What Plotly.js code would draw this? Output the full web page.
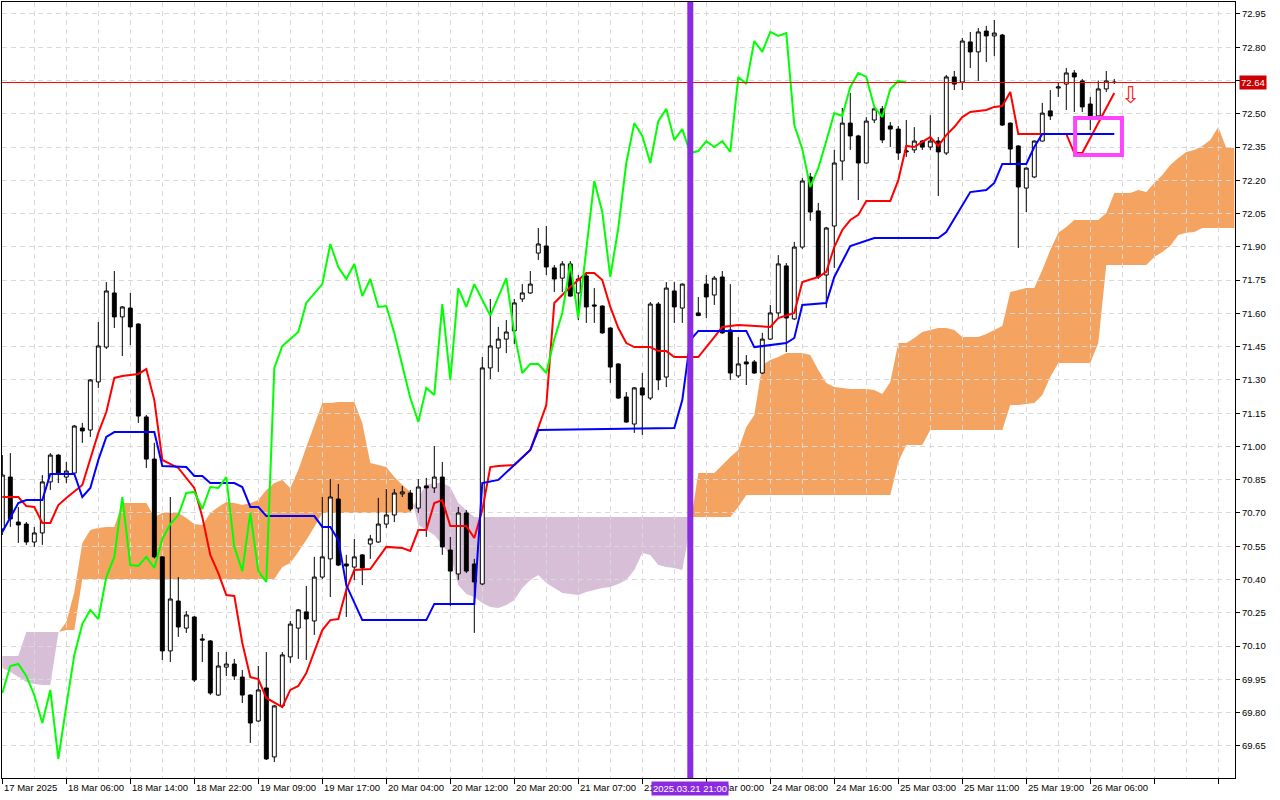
<!DOCTYPE html>
<html>
<head>
<meta charset="utf-8">
<script src="https://cdn.plot.ly/plotly-3.0.1.min.js"></script>
<style>
  html, body { margin: 0; padding: 0; background: #ffffff; }
  #chart { width: 1280px; height: 800px; }
</style>
</head>
<body>
<div id="chart"></div>
<script>
// ---------- DATA (H1 bars, index 0 = first visible bar) ----------
const open = [
70.628,70.862,70.659,70.650,70.569,70.610,70.840,70.961,70.862,70.880,
71.083,71.074,71.291,71.448,71.692,71.584,71.624,71.552,71.133,70.943,
70.502,70.078,70.303,70.181,70.231,70.132,70.123,69.879,70.005,70.019,
69.960,69.879,69.762,69.911,69.600,69.830,70.051,70.181,70.254,70.213,
70.411,70.493,70.763,70.470,70.456,70.511,70.560,70.569,70.650,70.691,
70.786,70.790,70.722,70.822,70.813,70.862,70.533,70.425,70.700,70.470,
70.380,71.354,71.444,71.484,71.521,71.665,71.692,71.872,71.904,71.805,
71.759,71.823,71.692,71.769,71.638,71.633,71.534,71.372,71.223,71.101,
71.264,71.218,71.642,71.313,71.701,71.624,71.705,71.602,71.732,71.683,
71.764,71.525,71.318,71.381,71.381,71.331,71.484,71.602,71.814,71.575,
71.899,72.215,72.062,71.773,71.994,72.287,72.458,72.400,72.278,72.472,
72.522,72.445,72.431,72.328,72.337,72.377,72.350,72.377,72.323,72.666,
72.643,72.824,72.779,72.873,72.851,72.855,72.458,72.355,72.165,72.215,
72.377,72.513,72.616,72.634,72.684,72.648,72.544,72.490,72.612,72.643];
const high = [
70.961,70.970,70.727,70.659,70.637,70.871,70.970,70.965,70.930,71.097,
71.106,71.304,71.561,71.741,71.791,71.633,71.692,71.555,71.142,71.016,
70.505,70.772,70.411,70.258,70.235,70.154,70.127,70.073,70.073,70.042,
69.992,69.882,70.010,70.073,69.835,70.073,70.213,70.267,70.371,70.502,
70.772,70.853,70.831,70.511,70.583,70.515,70.601,70.768,70.808,70.808,
70.822,70.804,70.853,70.858,71.002,70.930,70.592,70.727,70.713,70.493,
71.403,71.665,71.539,71.570,71.665,71.732,71.791,71.985,71.994,71.818,
71.836,71.836,71.773,71.782,71.714,71.636,71.537,71.375,71.245,71.268,
71.331,71.651,71.651,71.741,71.741,71.735,71.750,71.674,71.773,71.769,
71.791,71.732,71.493,71.412,71.390,71.512,71.638,71.863,71.827,71.922,
72.210,72.233,72.098,71.990,72.337,72.526,72.594,72.405,72.485,72.531,
72.535,72.463,72.445,72.472,72.440,72.382,72.494,72.395,72.675,72.693,
72.842,72.869,72.887,72.896,72.923,72.860,72.460,72.358,72.258,72.380,
72.549,72.607,72.643,72.706,72.697,72.657,72.576,72.650,72.693,72.657];
const low = [
70.601,70.637,70.565,70.556,70.547,70.556,70.804,70.835,70.835,70.871,
71.016,71.043,71.264,71.439,71.534,71.408,71.457,71.106,70.903,70.495,
70.037,70.028,70.141,70.159,69.938,70.028,69.879,69.875,69.965,69.947,
69.843,69.663,69.758,69.586,69.577,69.826,70.024,70.042,70.037,70.150,
70.402,70.321,70.460,70.231,70.398,70.375,70.493,70.565,70.632,70.659,
70.772,70.709,70.700,70.592,70.790,70.511,70.281,70.398,70.429,70.159,
70.375,71.304,71.336,71.421,71.462,71.651,71.688,71.841,71.773,71.696,
71.696,71.675,71.570,71.557,71.557,71.508,71.286,71.215,71.107,71.061,
71.052,71.209,71.254,71.268,71.557,71.557,71.615,71.588,71.579,71.638,
71.508,71.300,71.309,71.277,71.328,71.327,71.480,71.584,71.426,71.570,
71.890,72.017,71.755,71.624,71.805,72.201,72.337,72.111,72.275,72.458,
72.368,72.350,72.292,72.305,72.323,72.337,72.337,72.129,72.314,72.607,
72.607,72.706,72.648,72.733,72.760,72.445,72.278,71.895,72.057,72.210,
72.375,72.472,72.576,72.517,72.508,72.508,72.427,72.472,72.598,72.634];
const close = [
70.871,70.673,70.646,70.569,70.610,70.840,70.961,70.880,70.889,71.092,
71.070,71.300,71.453,71.701,71.584,71.629,71.539,71.137,70.943,70.502,
70.078,70.312,70.186,70.240,69.947,70.127,69.888,70.010,70.019,69.965,
69.879,69.753,69.902,69.591,69.830,70.060,70.199,70.263,70.222,70.411,
70.502,70.772,70.465,70.461,70.502,70.452,70.583,70.650,70.691,70.790,
70.795,70.718,70.817,70.813,70.862,70.547,70.438,70.700,70.438,70.389,
71.354,71.453,71.484,71.516,71.647,71.692,71.732,71.913,71.809,71.755,
71.823,71.678,71.755,71.629,71.633,71.512,71.358,71.218,71.110,71.264,
71.232,71.642,71.300,71.714,71.629,71.732,71.660,71.590,71.674,71.759,
71.512,71.331,71.372,71.372,71.331,71.484,71.602,71.823,71.579,71.899,
72.197,72.057,71.764,71.985,72.278,72.458,72.400,72.278,72.467,72.522,
72.382,72.431,72.323,72.332,72.377,72.350,72.377,72.328,72.666,72.634,
72.828,72.779,72.869,72.851,72.864,72.449,72.341,72.170,72.255,72.377,
72.503,72.490,72.621,72.684,72.666,72.531,72.485,72.612,72.648,72.641];

// Tenkan-sen (red) break points: bar index / value
const tenkanBars = [0,2,3,4,5,6,7,8,10,11,12,13,14,15,17,18,19,20,22,24,25,26,27,28,29,30,31,32,33,35,36,37,38,40,41,42,43,44,46,48,50,51,52,53,54,55,56,58,59,60,61,62,64,66,67,68,69,70,71,73,74,75,76,77,78,79,81,82,83,84,87,89,90,92,96,97,99,100,102,103,104,105,106,107,108,111,112,113,114,115,116,117,118,119,120,121,123,124,125,126,127,133,134,135,139];
const tenkanVals = [70.772,70.772,70.731,70.727,70.655,70.655,70.736,70.768,70.826,70.939,71.061,71.155,71.309,71.318,71.327,71.349,71.209,70.939,70.903,70.813,70.682,70.511,70.429,70.330,70.326,70.114,69.960,69.951,69.866,69.825,69.902,69.920,69.978,70.172,70.217,70.222,70.353,70.443,70.447,70.547,70.542,70.529,70.623,70.623,70.745,70.758,70.641,70.641,70.587,70.713,70.907,70.912,70.916,70.984,71.083,71.187,71.647,71.683,71.719,71.782,71.782,71.750,71.629,71.534,71.466,71.448,71.448,71.430,71.430,71.403,71.403,71.493,71.539,71.548,71.539,71.579,71.602,71.741,71.764,71.787,71.899,71.976,72.021,72.044,72.107,72.107,72.201,72.355,72.350,72.373,72.395,72.355,72.404,72.440,72.485,72.508,72.517,72.531,72.535,72.598,72.409,72.409,72.323,72.323,72.594];

// Kijun-sen (blue) break points
const kijunBars = [0,2,3,5,6,9,10,11,12,13,14,19,20,23,24,25,26,29,30,31,32,33,39,40,41,42,43,45,53,54,59,60,62,64,66,67,84,85,86,87,93,94,98,99,100,103,104,106,108,109,117,118,121,123,124,125,128,129,130,139];
const kijunVals = [70.614,70.745,70.758,70.758,70.876,70.876,70.772,70.813,70.939,71.043,71.065,71.065,70.912,70.907,70.867,70.867,70.835,70.835,70.817,70.727,70.727,70.686,70.686,70.637,70.637,70.578,70.375,70.217,70.217,70.290,70.290,70.835,70.849,70.916,70.984,71.074,71.083,71.209,71.480,71.521,71.521,71.448,71.466,71.489,71.638,71.647,71.764,71.904,71.926,71.940,71.940,71.967,72.147,72.156,72.188,72.274,72.274,72.350,72.409,72.409];

// Senkou Span A / B (already shifted 26 bars ahead), bars 0..154
const spanA = [
70.001,69.983,69.961,69.938,69.929,69.924,69.924,70.159,70.208,70.344,
70.565,70.623,70.632,70.637,70.637,70.745,70.745,70.745,70.745,70.682,
70.700,70.700,70.700,70.677,70.650,70.646,70.700,70.727,70.749,70.745,
70.736,70.745,70.758,70.804,70.835,70.849,70.813,70.894,70.998,71.097,
71.196,71.196,71.200,71.200,71.200,71.106,70.925,70.916,70.907,70.862,
70.826,70.795,70.646,70.623,70.601,70.556,70.511,70.375,70.335,70.321,
70.294,70.276,70.272,70.285,70.308,70.362,70.398,70.420,70.384,70.362,
70.339,70.335,70.330,70.344,70.353,70.362,70.366,70.380,70.398,70.443,
70.520,70.511,70.465,70.456,70.452,70.443,70.646,70.880,70.880,70.880,
70.916,70.952,70.984,71.088,71.142,71.367,71.390,71.403,71.421,71.421,
71.421,71.412,71.345,71.286,71.268,71.264,71.259,71.259,71.259,71.254,
71.236,71.291,71.466,71.466,71.489,71.516,71.525,71.534,71.534,71.525,
71.493,71.493,71.493,71.507,71.525,71.543,71.696,71.705,71.714,71.714,
71.796,71.886,71.963,71.990,72.021,72.021,72.021,72.021,72.053,72.143,
72.143,72.143,72.156,72.147,72.188,72.224,72.269,72.301,72.328,72.337,
72.355,72.382,72.440,72.346,72.346];
const spanB = [
70.055,70.055,70.055,70.163,70.163,70.163,70.163,70.163,70.172,70.172,
70.402,70.402,70.402,70.402,70.402,70.402,70.402,70.402,70.402,70.402,
70.402,70.402,70.402,70.402,70.402,70.402,70.402,70.402,70.402,70.402,
70.402,70.402,70.402,70.402,70.402,70.456,70.474,70.524,70.578,70.637,
70.700,70.700,70.700,70.700,70.700,70.700,70.700,70.700,70.700,70.700,
70.700,70.700,70.772,70.826,70.835,70.835,70.817,70.745,70.713,70.682,
70.682,70.682,70.682,70.682,70.682,70.682,70.682,70.682,70.682,70.682,
70.682,70.682,70.682,70.682,70.682,70.682,70.682,70.682,70.682,70.682,
70.682,70.682,70.682,70.682,70.682,70.682,70.682,70.682,70.682,70.682,
70.682,70.682,70.727,70.781,70.781,70.781,70.781,70.781,70.781,70.781,
70.781,70.781,70.781,70.781,70.781,70.781,70.781,70.781,70.781,70.781,
70.781,70.781,70.930,71.006,71.006,71.006,71.074,71.074,71.074,71.074,
71.074,71.074,71.074,71.074,71.074,71.074,71.187,71.187,71.191,71.196,
71.232,71.313,71.376,71.376,71.376,71.376,71.376,71.466,71.818,71.818,
71.818,71.818,71.818,71.818,71.854,71.877,71.904,71.953,71.963,71.967,
71.985,71.985,71.985,71.985,71.985];

const chikouShift = 26;
const priceTicks = [69.65,69.80,69.95,70.10,70.25,70.40,70.55,70.70,70.85,71.00,71.15,71.30,71.45,71.60,71.75,71.90,72.05,72.20,72.35,72.50,72.65,72.80,72.95];
const timeLabelBars = [0,8,16,24,32,40,48,56,64,72,80,88,96,104,112,120,128,136];
const timeLabels = ['17 Mar 2025','18 Mar 06:00','18 Mar 14:00','18 Mar 22:00','19 Mar 09:00','19 Mar 17:00','20 Mar 04:00','20 Mar 12:00','20 Mar 20:00','21 Mar 07:00','21 Mar 15:00','24 Mar 00:00','24 Mar 08:00','24 Mar 16:00','25 Mar 03:00','25 Mar 11:00','25 Mar 19:00','26 Mar 06:00'];
const markerBar = 86;
const markerLabel = '2025.03.21 21:00';
const boxBars = [134.1, 139.96];
const boxPrices = [72.314, 72.481];
const arrowBar = 141;
const arrowPrice = 72.585;

// ---------- BUILD ----------
const bars = close.map((_, i) => i);
const chikouX = [], chikouY = [];
close.forEach((c, i) => { if (i - chikouShift >= 0) { chikouX.push(i - chikouShift); chikouY.push(c); } });

// Kumo polygons between Span A and Span B, split where the spans cross
function cloudPolys(A, B) {
  const polys = [];
  const n = Math.min(A.length, B.length);
  const cross = (k) => {
    const d0 = A[k] - B[k], d1 = A[k + 1] - B[k + 1];
    const t = d0 / (d0 - d1);
    return [k + t, A[k] + t * (A[k + 1] - A[k])];
  };
  let i = 0;
  while (i < n) {
    const up = A[i] >= B[i];
    let j = i;
    while (j + 1 < n && (A[j + 1] >= B[j + 1]) === up) j++;
    const pts = [];
    if (i > 0) pts.push(cross(i - 1));
    for (let k = i; k <= j; k++) pts.push([k, A[k]]);
    if (j < n - 1) pts.push(cross(j));
    for (let k = j; k >= i; k--) pts.push([k, B[k]]);
    polys.push({ up: up, pts: pts });
    i = j + 1;
  }
  return polys;
}
const cloudShapes = cloudPolys(spanA, spanB).map(p => ({
  type: 'path', xref: 'x', yref: 'y', layer: 'below',
  path: 'M' + p.pts.map(q => q[0].toFixed(3) + ',' + q[1].toFixed(4)).join('L') + 'Z',
  fillcolor: p.up ? '#f4a460' : '#d8bfd8', line: { width: 0 }
}));
const lastPrice = close[close.length - 1];

const traces = [
  { type: 'candlestick', x: bars, open: open, high: high, low: low, close: close,
    increasing: { line: { color: '#000000', width: 1 }, fillcolor: '#ffffff' },
    decreasing: { line: { color: '#000000', width: 1 }, fillcolor: '#000000' },
    whiskerwidth: 0, hoverinfo: 'skip' },
  { type: 'scatter', mode: 'lines', x: tenkanBars, y: tenkanVals, line: { color: '#ff0000', width: 2 }, hoverinfo: 'skip' },
  { type: 'scatter', mode: 'lines', x: kijunBars, y: kijunVals, line: { color: '#0000ff', width: 2 }, hoverinfo: 'skip' },
  { type: 'scatter', mode: 'lines', x: chikouX, y: chikouY, line: { color: '#00ff00', width: 2 }, hoverinfo: 'skip' }
];

const labelFont = { family: 'Liberation Sans, Arial, sans-serif', size: 9.5, color: '#000000' };
const annotations = timeLabelBars.map((b, k) => ({
  x: b, xref: 'x', y: 0, yref: 'paper', yanchor: 'top', xanchor: 'left', yshift: -2,
  text: timeLabels[k], showarrow: false, font: labelFont
}));
annotations.push({
  x: 1, xref: 'paper', xanchor: 'left', xshift: 4, y: lastPrice, yref: 'y', yanchor: 'middle',
  text: lastPrice.toFixed(2), showarrow: false, bgcolor: '#cc0000', borderpad: 1,
  font: { family: 'Liberation Sans, Arial, sans-serif', size: 9.5, color: '#ffffff' }
});
annotations.push({
  x: arrowBar, y: arrowPrice, xref: 'x', yref: 'y', text: '\u21E9', showarrow: false,
  font: { family: 'DejaVu Sans', size: 23, color: '#ff2020' }
});
annotations.push({
  x: markerBar, xref: 'x', y: 0, yref: 'paper', yanchor: 'top', xanchor: 'center', yshift: -3,
  text: markerLabel, showarrow: false, bgcolor: '#8a2be2', borderpad: 1,
  font: { family: 'Liberation Sans, Arial, sans-serif', size: 9.5, color: '#ffffff' }
});

const layout = {
  width: 1280, height: 800,
  margin: { l: 2, r: 45, t: 2, b: 22, pad: 0 },
  paper_bgcolor: '#ffffff', plot_bgcolor: '#ffffff',
  showlegend: false, hovermode: false, dragmode: false,
  font: labelFont,
  xaxis: {
    range: [-0.04, 154.09], rangeslider: { visible: false },
    tickmode: 'linear', tick0: 0, dtick: 8, showticklabels: false,
    ticks: 'outside', ticklen: 5, tickcolor: '#000000',
    showgrid: true, gridcolor: '#d9d9d9', griddash: '5px,4px', gridwidth: 1,
    minor: { tickmode: 'linear', tick0: 0, dtick: 4, showgrid: true, gridcolor: '#d9d9d9', griddash: '5px,4px', ticklen: 0 },
    showline: true, linecolor: '#000000', linewidth: 1, mirror: true, zeroline: false, fixedrange: true
  },
  yaxis: {
    range: [69.505, 73.004], side: 'right',
    tickmode: 'array', tickvals: priceTicks, ticktext: priceTicks.map(v => v.toFixed(2)),
    ticks: 'outside', ticklen: 4, tickcolor: '#000000',
    showgrid: true, gridcolor: '#d9d9d9', griddash: '5px,4px', gridwidth: 1,
    showline: true, linecolor: '#000000', linewidth: 1, mirror: true, zeroline: false, fixedrange: true,
    tickfont: labelFont
  },
  shapes: cloudShapes.concat([
    { type: 'line', xref: 'paper', x0: 0, x1: 1, yref: 'y', y0: lastPrice, y1: lastPrice, line: { color: '#ff0000', width: 1 }, layer: 'above' },
    { type: 'line', xref: 'x', x0: markerBar, x1: markerBar, yref: 'paper', y0: 0, y1: 1, line: { color: '#8a2be2', width: 6 }, layer: 'above' },
    { type: 'rect', xref: 'x', x0: boxBars[0], x1: boxBars[1], yref: 'y', y0: boxPrices[0], y1: boxPrices[1], line: { color: '#ff44ff', width: 4 }, fillcolor: 'rgba(0,0,0,0)', layer: 'above' }
  ]),
  annotations: annotations
};

Plotly.newPlot('chart', traces, layout, { staticPlot: true, displayModeBar: false });
</script>
</body>
</html>
